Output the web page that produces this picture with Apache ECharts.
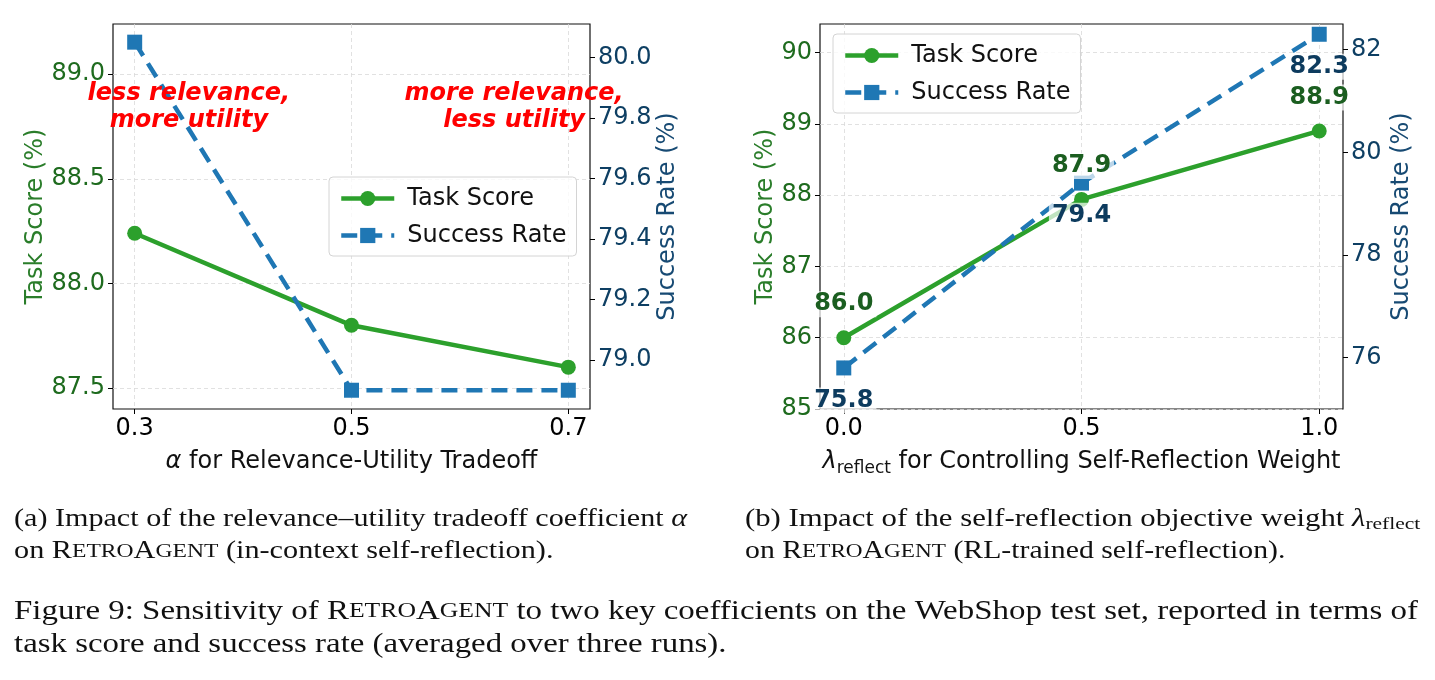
<!DOCTYPE html>
<html>
<head>
<meta charset="utf-8">
<script src="https://cdn.jsdelivr.net/npm/echarts@6/dist/echarts.min.js"></script>
<style>
  html, body { margin: 0; padding: 0; background: #fff; }
  #fig { width: 1435px; height: 680px; }
</style>
</head>
<body>
<div id="fig"></div>
<script>
// (a) alpha sweep
var alphaValues = [0.3, 0.5, 0.7];
var alphaTaskScore = [88.24, 87.80, 87.60];
var alphaSuccessRate = [80.05, 78.90, 78.90];
// (b) lambda_reflect sweep
var lambdaValues = [0.0, 0.5, 1.0];
var lambdaTaskScore = [86.0, 87.94, 88.9];
var lambdaSuccessRate = [75.8, 79.4, 82.3];

// tick labels
var alphaTicks = [0.3, 0.5, 0.7];
var lambdaTicks = [0.0, 0.5, 1.0];
var alphaTaskTicks = [87.5, 88.0, 88.5, 89.0];
var alphaSuccessTicks = [79.0, 79.2, 79.4, 79.6, 79.8, 80.0];
var lambdaTaskTicks = [85, 86, 87, 88, 89, 90];
var lambdaSuccessTicks = [76, 78, 80, 82];

var GREEN = '#2ca02c';
var BLUE = '#1f77b4';
var GREEN_TXT = '#1e6b1e';
var BLUE_TXT = '#0e3f63';
var FONT = 'DejaVu Sans';
var FS = 24;

function pairs(xs, ys) {
  return xs.map(function (x, i) { return [x, ys[i]]; });
}

function xAxisFor(grid, min, max, ticks, name) {
  return {
    type: 'value', gridIndex: grid, min: min, max: max,
    name: name, nameLocation: 'middle', nameGap: 38,
    nameTextStyle: {
      fontFamily: FONT, fontSize: FS, color: '#111',
      rich: {
        i: { fontFamily: FONT, fontSize: FS, fontStyle: 'italic', color: '#111', lineHeight: 30 },
        s: { fontFamily: FONT, fontSize: 17, color: '#111', lineHeight: 17, verticalAlign: 'bottom' },
        n: { fontFamily: FONT, fontSize: FS, color: '#111', lineHeight: 30 }
      }
    },
    axisLine: { show: false, onZero: false },
    axisTick: { show: true, length: 5, lineStyle: { color: '#000' }, customValues: ticks },
    axisLabel: {
      customValues: ticks, margin: 8, fontFamily: FONT, fontSize: FS, color: '#000',
      formatter: function (v) { return v.toFixed(1); }
    },
    splitLine: { show: true, lineStyle: { color: '#d9d9d9', type: [4, 3], width: 0.8 } }
  };
}

function yAxisFor(grid, pos, min, max, ticks, digits, name, txtColor, titleColor, gap, gridLines) {
  return {
    type: 'value', gridIndex: grid, position: pos, min: min, max: max,
    name: name, nameLocation: 'middle', nameGap: gap, nameRotate: 90,
    nameTextStyle: { fontFamily: FONT, fontSize: FS, color: titleColor },
    axisLine: { show: false, onZero: false },
    axisTick: { show: true, length: 5, lineStyle: { color: '#000' }, customValues: ticks },
    axisLabel: {
      customValues: ticks, margin: 8, fontFamily: FONT, fontSize: FS, color: txtColor,
      formatter: function (v) { return v.toFixed(digits); }
    },
    splitLine: { show: gridLines, lineStyle: { color: '#d9d9d9', type: [4, 3], width: 0.8 } }
  };
}

var redNote = {
  show: true, position: 'inside', color: '#ff0000', fontFamily: FONT,
  fontSize: 24, fontWeight: 'bold', fontStyle: 'italic', align: 'center', lineHeight: 27
};

var legendBase = {
  orient: 'vertical', itemWidth: 53, itemHeight: 19, itemGap: 12,
  padding: [9, 10, 8, 10],
  backgroundColor: 'rgba(255,255,255,0.8)', borderColor: '#d4d4d4', borderWidth: 1, borderRadius: 4,
  lineStyle: { width: 4.5 },
  textStyle: { fontFamily: FONT, fontSize: FS, color: '#111', lineHeight: 25, padding: [0, 0, 0, 8] },
  data: ['Task Score', 'Success Rate']
};

// captions (Computer Modern look-alike, stretched to the paper's line widths)
var capFont = 'Liberation Serif';
function capRich(fs) {
  return {
    sc: { fontFamily: capFont, fontSize: fs * 0.78, fill: '#111' },
    i: { fontFamily: capFont, fontSize: fs, fontStyle: 'italic', fill: '#111' },
    sub: { fontFamily: capFont, fontSize: fs * 0.7, fill: '#111', padding: [fs * 0.4, 0, 0, 0] }
  };
}
function capLine(x, y, text, fs, sx) {
  return {
    type: 'text', left: x, top: y, scaleX: sx,
    style: { text: text, fontFamily: capFont, fontSize: fs, fill: '#111', rich: capRich(fs) }
  };
}

var option = {
  animation: false,
  backgroundColor: '#fff',
  grid: [
    { left: 113, top: 24, width: 477, height: 385, show: true, borderColor: '#111', borderWidth: 1.2 },
    { left: 820, top: 24, width: 523, height: 385, show: true, borderColor: '#111', borderWidth: 1.2 }
  ],
  xAxis: [
    xAxisFor(0, 0.28, 0.72, alphaTicks, '{i|α}{n| for Relevance-Utility Tradeoff}'),
    xAxisFor(1, -0.05, 1.05, lambdaTicks, '{i|λ}{s|reflect}{n| for Controlling Self-Reflection Weight}')
  ],
  yAxis: [
    yAxisFor(0, 'left', 87.4, 89.24, alphaTaskTicks, 1, 'Task Score (%)', GREEN_TXT, '#2a7d2a', 63, true),
    yAxisFor(0, 'right', 78.838, 80.11, alphaSuccessTicks, 1, 'Success Rate (%)', BLUE_TXT, '#174a73', 63, false),
    yAxisFor(1, 'left', 85, 90.4, lambdaTaskTicks, 0, 'Task Score (%)', GREEN_TXT, '#2a7d2a', 40, true),
    yAxisFor(1, 'right', 75, 82.5, lambdaSuccessTicks, 0, 'Success Rate (%)', BLUE_TXT, '#174a73', 47, false)
  ],
  legend: [
    Object.assign({}, legendBase, { left: 329, top: 177 }),
    Object.assign({}, legendBase, { left: 833, top: 34 })
  ],
  series: [
    {
      name: 'Task Score', type: 'line', xAxisIndex: 0, yAxisIndex: 0,
      data: pairs(alphaValues, alphaTaskScore),
      symbol: 'circle', symbolSize: 15,
      lineStyle: { color: GREEN, width: 4.5 }, itemStyle: { color: GREEN },
      markPoint: {
        symbol: 'circle', symbolSize: 2,
        itemStyle: { color: 'rgba(0,0,0,0)' },
        data: [
          { coord: [0.35, 88.84], label: Object.assign({}, redNote, { formatter: 'less relevance,\nmore utility' }) },
          { coord: [0.65, 88.84], label: Object.assign({}, redNote, { formatter: 'more relevance,\nless utility' }) }
        ]
      }
    },
    {
      name: 'Success Rate', type: 'line', xAxisIndex: 0, yAxisIndex: 1,
      data: pairs(alphaValues, alphaSuccessRate),
      symbol: 'rect', symbolSize: 15,
      lineStyle: { color: BLUE, width: 4.5, type: [16, 9] }, itemStyle: { color: BLUE }
    },
    {
      name: 'Task Score', type: 'line', xAxisIndex: 1, yAxisIndex: 2,
      data: pairs(lambdaValues, lambdaTaskScore),
      symbol: 'circle', symbolSize: 15,
      lineStyle: { color: GREEN, width: 4.5 }, itemStyle: { color: GREEN },
      label: {
        show: true, position: 'top', distance: 13, fontFamily: FONT, fontSize: 24, fontWeight: 'bold',
        color: '#1b5e20', backgroundColor: 'rgba(255,255,255,0.7)', padding: [1, 3],
        formatter: function (p) { return p.value[1].toFixed(1); }
      }
    },
    {
      name: 'Success Rate', type: 'line', xAxisIndex: 1, yAxisIndex: 3,
      data: pairs(lambdaValues, lambdaSuccessRate),
      symbol: 'rect', symbolSize: 15,
      lineStyle: { color: BLUE, width: 4.5, type: [16, 9] }, itemStyle: { color: BLUE },
      label: {
        show: true, position: 'bottom', distance: 12, fontFamily: FONT, fontSize: 24, fontWeight: 'bold',
        color: '#0d3b5e', backgroundColor: 'rgba(255,255,255,0.7)', padding: [1, 3],
        formatter: function (p) { return p.value[1].toFixed(1); }
      }
    }
  ],
  graphic: [
    capLine(14, 507, '(a) Impact of the relevance–utility tradeoff coefficient {i|α}', 25, 1.205),
    capLine(14, 539, 'on R{sc|ETRO}A{sc|GENT} (in-context self-reflection).', 25, 1.21),
    capLine(745, 507, '(b) Impact of the self-reflection objective weight {i|λ}{sub|reflect}', 25, 1.23),
    capLine(745, 539, 'on R{sc|ETRO}A{sc|GENT} (RL-trained self-reflection).', 25, 1.19),
    capLine(14, 598, 'Figure 9: Sensitivity of R{sc|ETRO}A{sc|GENT} to two key coefficients on the WebShop test set, reported in terms of', 27, 1.22),
    capLine(14, 631, 'task score and success rate (averaged over three runs).', 27, 1.217)
  ]
};

var chart = echarts.init(document.getElementById('fig'));
chart.setOption(option);
</script>
</body>
</html>
